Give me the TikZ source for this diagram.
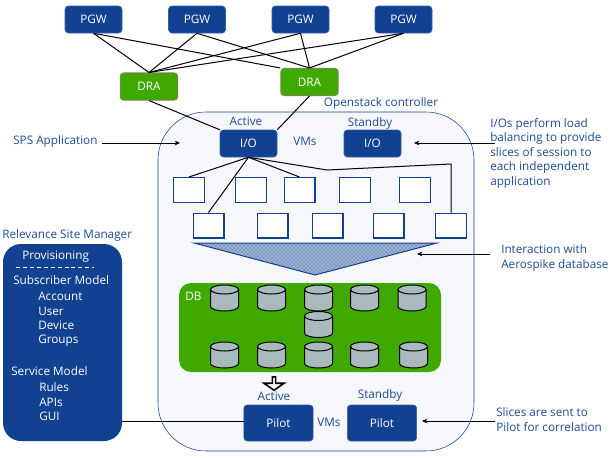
\documentclass[tikz,border=0pt]{standalone}
\usepackage{fontspec}
\setmainfont{Open Sans}
\definecolor{navy}{HTML}{124191}
\definecolor{inkblue}{HTML}{1F4A94}
\definecolor{leaf}{HTML}{3FA900}
\definecolor{olive}{HTML}{6F8C45}
\definecolor{panel}{HTML}{F5F7FA}
\definecolor{diskgray}{HTML}{A9BABD}
\usetikzlibrary{shapes.geometric, shapes.arrows, arrows.meta, patterns}

\begin{document}
\begin{tikzpicture}[
    x=0.75pt, y=-0.75pt,
    gateway/.style={rectangle, draw=navy!85, fill=navy, rounded corners=2.5pt,
        minimum width=42.75pt, minimum height=20.25pt, inner sep=0pt,
        font=\fontsize{8.8}{10}\selectfont, text=white},
    dra/.style={gateway, draw=olive, fill=leaf, thick, minimum width=43pt},
    pilot/.style={gateway, minimum width=52pt, minimum height=27pt},
    slot/.style={rectangle, draw=navy, fill=white, line width=1pt,
        minimum width=23pt, minimum height=18.5pt, inner sep=0pt},
    disk/.pic={
        \draw[black, fill=diskgray, line width=0.75pt] (-14,-8.5) -- (-14,8.5)
            arc[start angle=180, end angle=0, x radius=14, y radius=4.5] -- (14,-8.5);
        \draw[black, fill=diskgray, line width=0.75pt] (0,-8.5) ellipse [x radius=14, y radius=4.5];
    },
    note/.style={anchor=west, inner sep=0pt, text=inkblue, yshift=-0.9pt,
        font=\fontsize{8.8}{10.9}\selectfont, align=left},
    tag/.style={note, anchor=center},
    menu/.style={note, text=white},
    link/.style={black, line width=0.75pt},
    arr/.style={-{Stealth[length=4pt, width=3.5pt]}, black, line width=0.75pt}
]
\useasboundingbox (0,0) rectangle (612,458);

% Openstack container
\node[rectangle, draw=navy, fill=panel, rounded corners=36pt, minimum width=237pt,
    minimum height=254.25pt, inner sep=0pt] (OS) at (316, 281.5) {};
\node[tag] (OSlabel) at (381, 102) {Openstack controller};

% PGWs (top row)
\node[gateway] (P1) at (93.5, 19.5) {PGW};
\node[gateway] (P2) at (197, 19.5) {PGW};
\node[gateway] (P3) at (300.5, 19.5) {PGW};
\node[gateway] (P4) at (403.5, 19.5) {PGW};

% DRAs
\node[dra] (D1) at (149, 86.5) {DRA};
\node[dra] (D2) at (309.5, 82) {DRA};

% I/O pair
\node[gateway] (IOA) at (248.5, 143.5) {I/O};
\node[gateway] (IOS) at (372.5, 143.5) {I/O};
\node[tag] (IOAlabel) at (246, 120) {Active};
\node[tag] (IOSlabel) at (370, 122) {Standby};
\node[tag] (IOVMs) at (305, 140) {VMs};

% Application slots, upper row
\node[slot] (S1) at (189, 190) {};
\node[slot] (S2) at (251, 190) {};
\node[slot] (S3) at (299.5, 190) {};
\node[slot] (S4) at (355, 190) {};
\node[slot] (S5) at (415, 190) {};

% Application slots, lower row
\node[slot] (R1) at (208.5, 225.5) {};
\node[slot] (R2) at (272.5, 225.5) {};
\node[slot] (R3) at (327.5, 225.5) {};
\node[slot] (R4) at (388.5, 225.5) {};
\node[slot] (R5) at (451, 225.5) {};

% Funnel
\coordinate (FL) at (194, 243);
\coordinate (FR) at (437, 243);
\coordinate (FA) at (315, 275);
\draw[navy, line width=0.75pt, preaction={fill=navy!40}, pattern=crosshatch dots, pattern color=navy]
    (FL) -- (FR) -- (FA) -- cycle;

% DB
\node[rectangle, fill=leaf, rounded corners=9pt, minimum width=196.5pt,
    minimum height=66.75pt, inner sep=0pt] (DB) at (310, 327.5) {};
\node[tag, text=white] (DBlabel) at (193.5, 295) {DB};
\pic (C1) at (224.5, 298) {disk};
\pic (C2) at (271.5, 298) {disk};
\pic (C3) at (318.5, 298) {disk};
\pic (C4) at (364.5, 298) {disk};
\pic (C5) at (412, 298) {disk};
\pic (C6) at (318.5, 324.5) {disk};
\pic (C7) at (224.5, 355) {disk};
\pic (C8) at (271.5, 355) {disk};
\pic (C9) at (318.5, 355) {disk};
\pic (C10) at (364.5, 355) {disk};
\pic (C11) at (413.5, 355) {disk};

% Pilot pair
\node[single arrow, draw=black, fill=white, line width=1.2pt, shape border rotate=270, inner sep=0pt,
    minimum width=15pt, minimum height=10pt, single arrow head extend=3pt,
    single arrow tip angle=110] (DOWN) at (274, 383) {};
\node[tag] (PAlabel) at (274, 395) {Active};
\node[tag] (PSlabel) at (380, 394) {Standby};
\node[tag] (PVMs) at (329, 421) {VMs};
\node[pilot] (PA) at (278.5, 423) {Pilot};
\node[pilot] (PS) at (382, 423) {Pilot};

% Relevance Site Manager
\node[note] (RSM) at (2, 234) {Relevance Site Manager};
\node[rectangle, fill=navy, rounded corners=13.5pt, minimum width=89.25pt,
    minimum height=147.75pt, inner sep=0pt] (M) at (62.5, 342.5) {};
\node[menu] (M1) at (22, 255) {Provisioning};
\coordinate (DL) at (16, 267);
\coordinate (DR) at (94, 267);
\draw[white, line width=0.5pt, dash pattern=on 3pt off 2.2pt] (DL) -- (DR);
\node[menu] (M2) at (13, 279) {Subscriber Model};
\node[menu] (M3) at (38, 295) {Account};
\node[menu] (M4) at (38, 310) {User};
\node[menu] (M5) at (38, 324) {Device};
\node[menu] (M6) at (38, 339) {Groups};
\node[menu] (M7) at (11, 370) {Service Model};
\node[menu] (M8) at (39, 386) {Rules};
\node[menu] (M9) at (39, 401) {APIs};
\node[menu] (M10) at (39, 415) {GUI};

% Side notes
\node[note] (N1) at (13, 140) {SPS Application};
\node[note] (N2) at (490, 152) {I/Os perform load\\balancing to provide\\slices of session to\\each independent\\application};
\node[note] (N3) at (501, 256.5) {Interaction with\\Aerospike database};
\node[note] (N4) at (496, 418.5) {Slices are sent to\\Pilot for correlation};

% PGW -> DRA
\draw[link] (P1.south) -- (D1.north);
\draw[link] (P1.south) -- (D2.north west);
\draw[link] (P2.south) -- (D1.north);
\draw[link] (P2.south) -- (D2.north);
\draw[link] (P3.south) -- (D1.north);
\draw[link] (P3.south) -- (D2.north);
\draw[link] (P4.south) -- (D1.north);
\draw[link] (P4.south) -- (D2.north);

% DRA -> I/O
\draw[link] (D1.south) -- (IOA.north west);
\draw[link] (D2.south) -- (IOA.north east);

% I/O -> slots
\coordinate (E1) at (327, 170);
\coordinate (E2) at (451, 164);
\draw[link] (IOA.south) -- (S1.north);
\draw[link] (IOA.south) -- (S3.north);
\draw[link] (IOA.south) -- (R1.north);
\draw[link] (IOA.south) -- (E1) -- (E2) -- (R5.north);

% Pilot -> site manager
\coordinate (LK) at (200, 421);
\draw[link] (M.east |- LK) -- (PA.west |- LK);

% Note arrows
\coordinate (A1) at (180, 143);
\coordinate (A2s) at (495, 143);
\coordinate (A2e) at (414, 143);
\coordinate (A3s) at (490, 254);
\coordinate (A3e) at (417, 254);
\coordinate (A4s) at (495, 421);
\coordinate (A4e) at (422, 421);
\draw[arr] (N1.east |- A1) ++(4,0) -- (A1);
\draw[arr] (A2s) -- (A2e);
\draw[arr] (A3s) -- (A3e);
\draw[arr] (A4s) -- (A4e);

\end{tikzpicture}
\end{document}
